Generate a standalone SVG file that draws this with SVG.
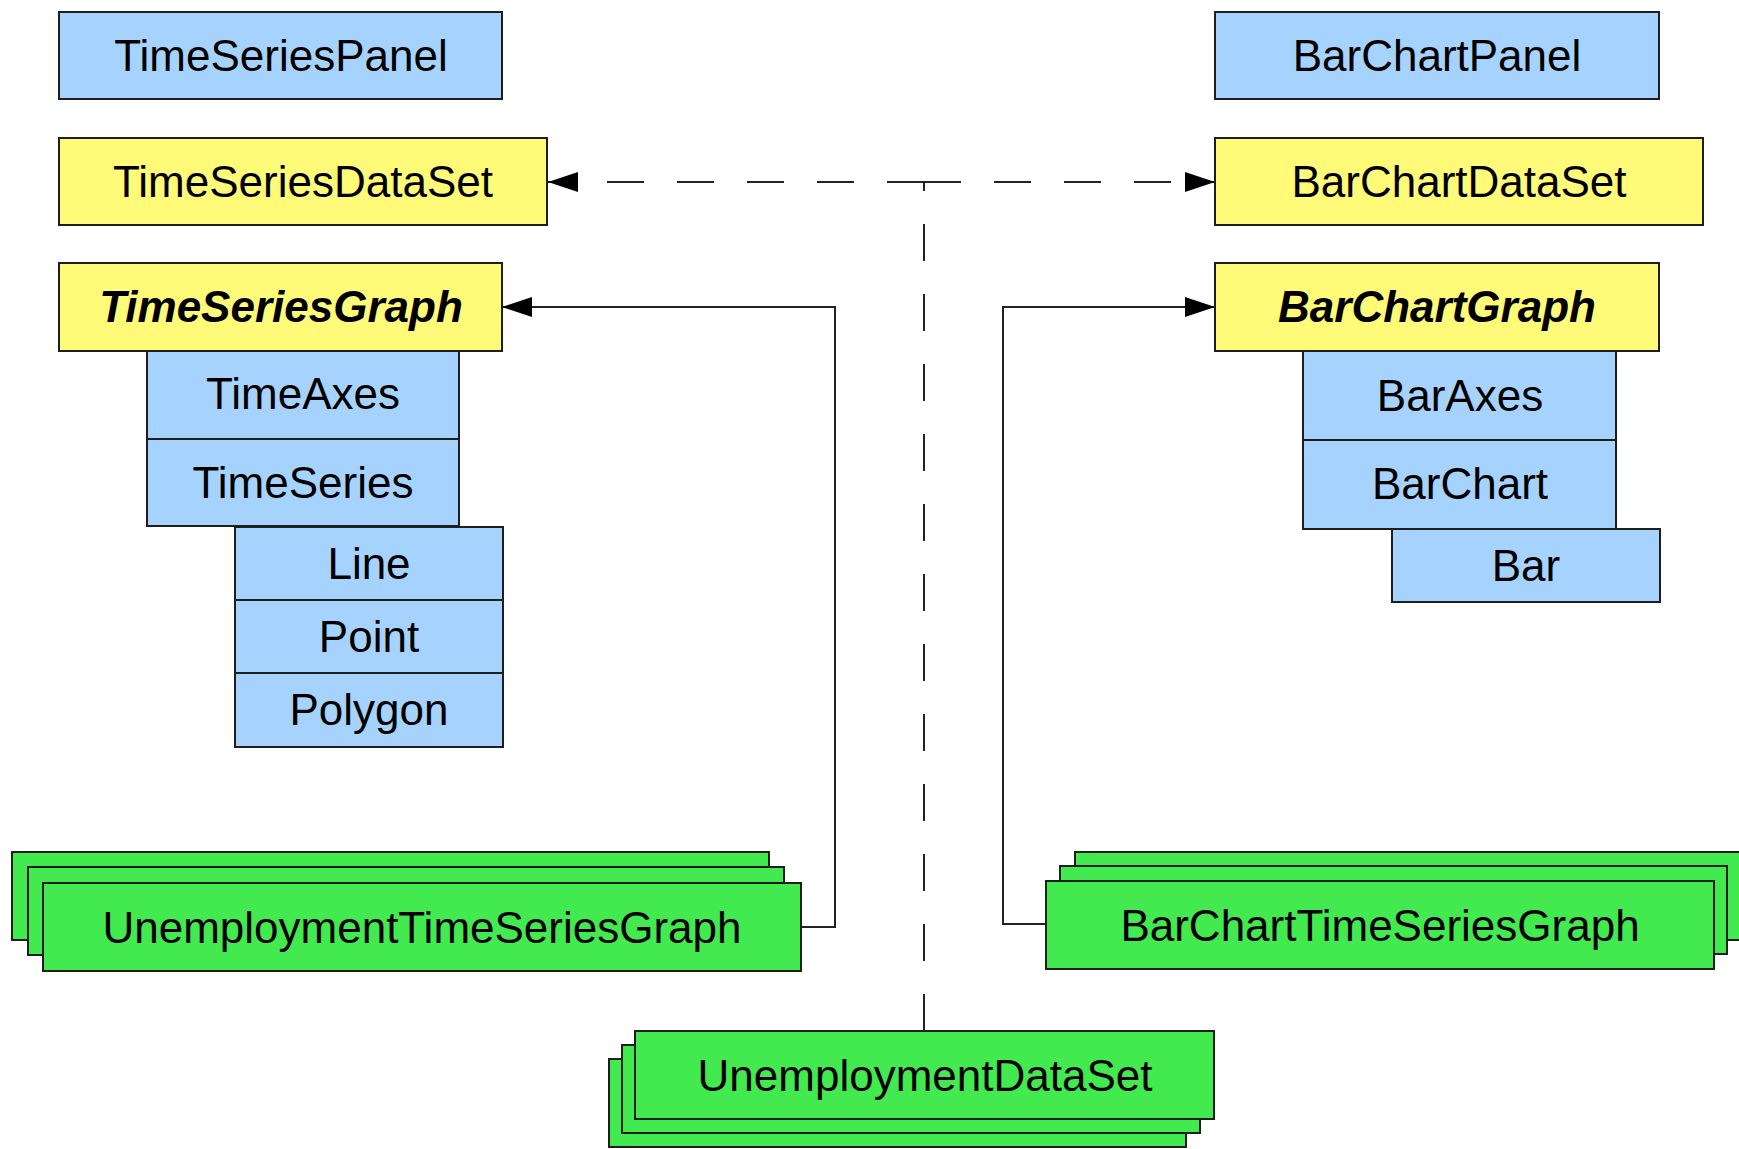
<svg xmlns="http://www.w3.org/2000/svg" width="1739" height="1149" viewBox="0 0 1739 1149">
  <style>
    .blue, .yellow, .green { stroke: #1e1e1e; stroke-width: 2; }
    .blue { fill: #a6d3fe; }
    .yellow { fill: #fffa78; }
    .green { fill: #42e94f; }
    text { font-family: "Liberation Sans", Arial, sans-serif; font-size: 44px; fill: #000; text-anchor: middle; }
    .abstract { font-weight: bold; font-style: italic; }
    .link { fill: none; stroke: #222; stroke-width: 2; }
    .dashed { stroke-dasharray: 37 33; }
  </style>
  <defs>
    <marker id="arrow" viewBox="0 0 30 20" refX="30" refY="10" markerWidth="30" markerHeight="20" markerUnits="userSpaceOnUse" orient="auto">
      <path d="M0,0 L30,10 L0,20 Z" fill="#000"/>
    </marker>
  </defs>
  <rect x="0" y="0" width="1739" height="1149" fill="#fff"/>

  <!-- connectors -->
  <g id="connectors">
    <path class="link dashed" d="M924,1031 V183"/>
    <path class="link dashed" d="M924,182 H548" marker-end="url(#arrow)"/>
    <path class="link dashed" d="M924,182 H1215" marker-end="url(#arrow)"/>
    <path class="link" d="M801,927 H835 V307 H502" marker-end="url(#arrow)"/>
    <path class="link" d="M1046,924 H1003 V307 H1215" marker-end="url(#arrow)"/>
  </g>

  <!-- time series side -->
  <g id="TimeSeriesPanel">
    <rect class="blue" x="59" y="12" width="443" height="87"/>
    <text x="281" y="71">TimeSeriesPanel</text>
  </g>
  <g id="TimeSeriesDataSet">
    <rect class="yellow" x="59" y="138" width="488" height="87"/>
    <text x="303" y="197">TimeSeriesDataSet</text>
  </g>
  <g id="TimeSeriesGraph">
    <rect class="yellow" x="59" y="263" width="443" height="88"/>
    <text class="abstract" x="281" y="322">TimeSeriesGraph</text>
  </g>
  <g id="TimeAxes">
    <rect class="blue" x="147" y="351" width="312" height="88"/>
    <text x="303" y="409">TimeAxes</text>
  </g>
  <g id="TimeSeries">
    <rect class="blue" x="147" y="439" width="312" height="87"/>
    <text x="303" y="498">TimeSeries</text>
  </g>
  <g id="Line">
    <rect class="blue" x="235" y="527" width="268" height="73"/>
    <text x="369" y="579">Line</text>
  </g>
  <g id="Point">
    <rect class="blue" x="235" y="600" width="268" height="73"/>
    <text x="369" y="652">Point</text>
  </g>
  <g id="Polygon">
    <rect class="blue" x="235" y="673" width="268" height="74"/>
    <text x="369" y="725">Polygon</text>
  </g>

  <!-- bar chart side -->
  <g id="BarChartPanel">
    <rect class="blue" x="1215" y="12" width="444" height="87"/>
    <text x="1437" y="71">BarChartPanel</text>
  </g>
  <g id="BarChartDataSet">
    <rect class="yellow" x="1215" y="138" width="488" height="87"/>
    <text x="1459" y="197">BarChartDataSet</text>
  </g>
  <g id="BarChartGraph">
    <rect class="yellow" x="1215" y="263" width="444" height="88"/>
    <text class="abstract" x="1437" y="322">BarChartGraph</text>
  </g>
  <g id="BarAxes">
    <rect class="blue" x="1303" y="351" width="313" height="89"/>
    <text x="1460" y="411">BarAxes</text>
  </g>
  <g id="BarChart">
    <rect class="blue" x="1303" y="440" width="313" height="89"/>
    <text x="1460" y="499">BarChart</text>
  </g>
  <g id="Bar">
    <rect class="blue" x="1392" y="529" width="268" height="73"/>
    <text x="1526" y="581">Bar</text>
  </g>

  <!-- concrete multi-instance nodes -->
  <g id="UnemploymentTimeSeriesGraph">
    <rect class="green" x="12" y="852" width="757" height="88"/>
    <rect class="green" x="28" y="867" width="756" height="88"/>
    <rect class="green" x="43" y="883" width="758" height="88"/>
    <text x="422" y="943">UnemploymentTimeSeriesGraph</text>
  </g>
  <g id="BarChartTimeSeriesGraph">
    <rect class="green" x="1075" y="852" width="669" height="88"/>
    <rect class="green" x="1060" y="866" width="667" height="88"/>
    <rect class="green" x="1046" y="881" width="668" height="88"/>
    <text x="1380" y="941">BarChartTimeSeriesGraph</text>
  </g>
  <g id="UnemploymentDataSet">
    <rect class="green" x="609" y="1059" width="577" height="88"/>
    <rect class="green" x="622" y="1045" width="578" height="88"/>
    <rect class="green" x="635" y="1031" width="579" height="88"/>
    <text x="925" y="1091">UnemploymentDataSet</text>
  </g>
</svg>
